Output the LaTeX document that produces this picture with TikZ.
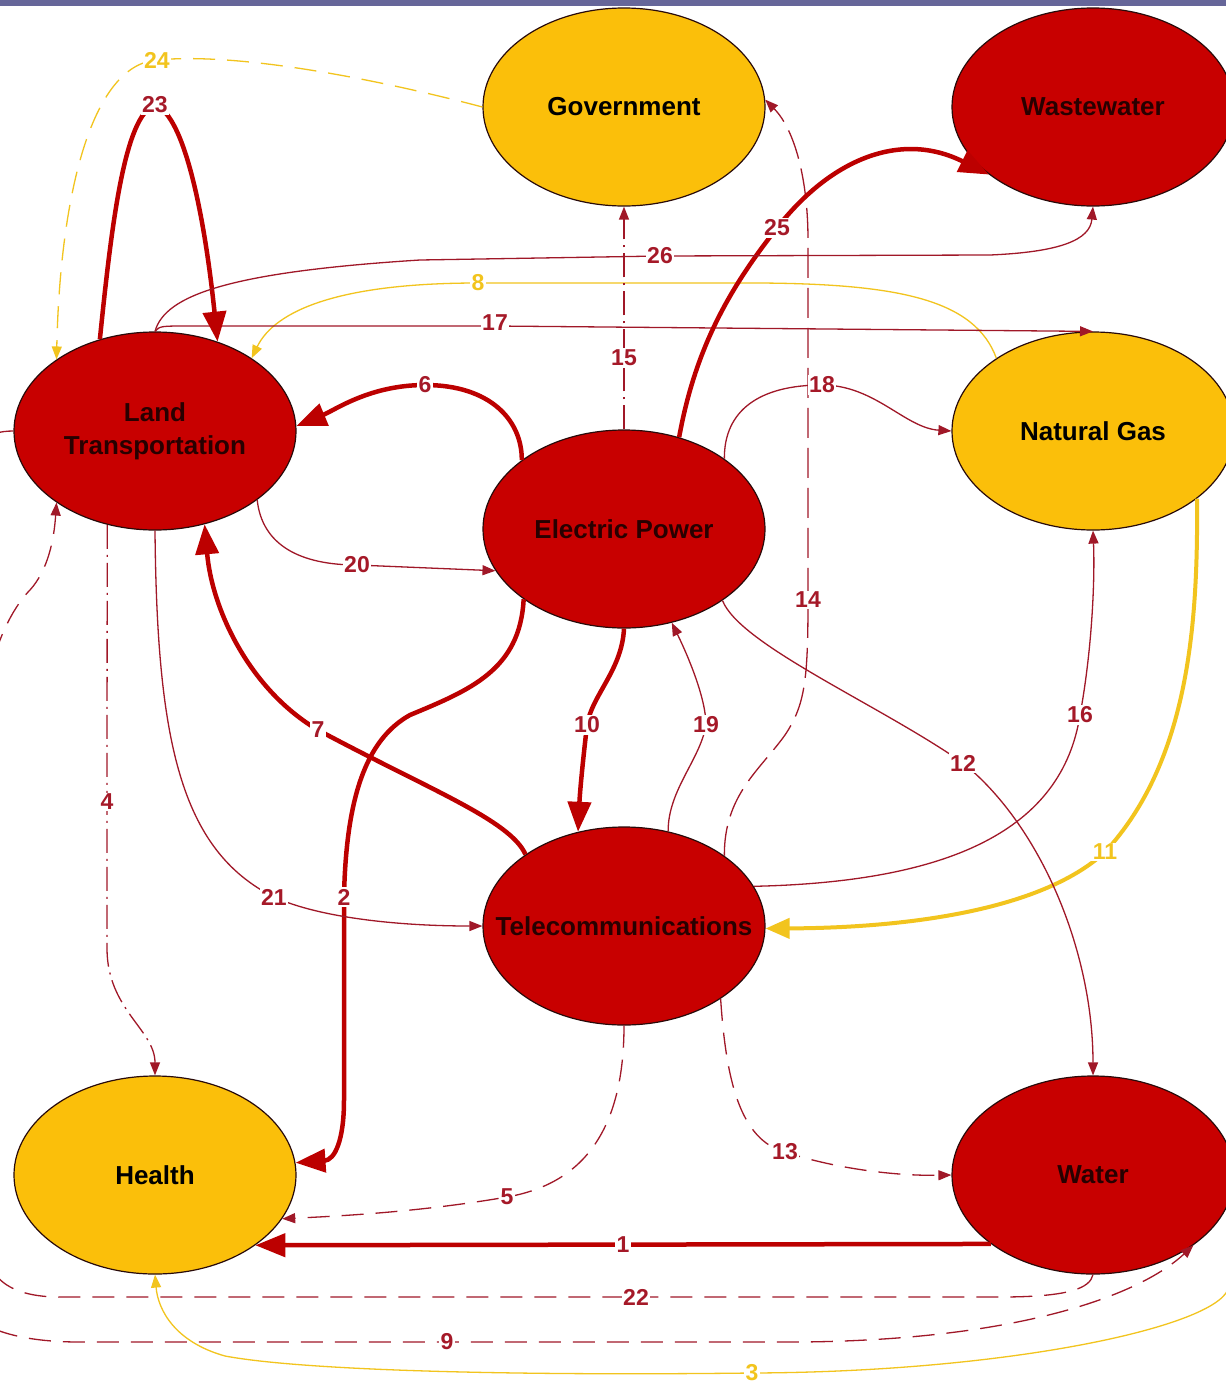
\documentclass[tikz,border=0pt]{standalone}
\usepackage{fontspec}
\setmainfont{Liberation Sans}
\usetikzlibrary{arrows.meta,shapes.geometric}
\definecolor{nodered}{RGB}{200,0,0}
\definecolor{nodeyel}{RGB}{251,191,10}
\definecolor{edgered}{RGB}{160,24,40}
\definecolor{thickred}{RGB}{188,0,0}
\definecolor{lblred}{RGB}{165,25,40}
\definecolor{edgeyel}{RGB}{242,196,30}
\definecolor{barcol}{RGB}{102,102,153}
\definecolor{redtext}{RGB}{40,0,0}
\newcommand{\nolen}[1]{\makebox[0pt][c]{#1}}
\begin{document}
\begin{tikzpicture}[x=1pt,y=-1pt,
  sys/.style={ellipse, draw={rgb,255:red,40;green,10;blue,10}, line width=1.2pt,
    minimum width=282pt, minimum height=198pt, inner sep=0pt,
    font=\fontsize{26}{33}\selectfont\bfseries, align=center},
  redsys/.style={sys, fill=nodered, text=redtext},
  yelsys/.style={sys, fill=nodeyel, text=black},
  lnk/.style={draw=edgered, line width=1.3pt, -{Triangle[length=13pt,width=10pt]}},
  lnkb/.style={draw=thickred, line width=4.5pt, -{Triangle[length=30pt,width=23pt]}},
  yel/.style={draw=edgeyel, line width=1.3pt, -{Triangle[length=13pt,width=10pt]}},
  yelb/.style={draw=edgeyel, line width=4pt, -{Triangle[length=24pt,width=20pt]}},
  dsh/.style={dash pattern=on 22pt off 12pt},
  dlong/.style={dash pattern=on 30pt off 10pt},
  ddot/.style={dash pattern=on 24pt off 6pt on 2pt off 6pt},
  lbl/.style={fill=white, inner sep=1.5pt, font=\fontsize{23}{23}\selectfont\bfseries, text=lblred},
  ylbl/.style={lbl, text=edgeyel}
]
\useasboundingbox (0,0) rectangle (1226,1387);
\clip (0,0) rectangle (1226,1387);
\fill[white] (0,0) rectangle (1226,1387);
\fill[barcol] (0,0) rectangle (1226,6);

% systems
\node[yelsys] (GOV) at (624,107) {\nolen{Government}};
\node[redsys] (WW) at (1093,107) {\nolen{Wastewater}};
\node[redsys] (LT) at (155,431) {Land\\Transportation};
\node[redsys] (EP) at (624,529) {\nolen{Electric Power}};
\node[yelsys] (NG) at (1093,431) {\nolen{Natural Gas}};
\node[redsys] (TC) at (624,926) {\nolen{Telecommunications}};
\node[yelsys] (HE) at (155,1175) {\nolen{Health}};
\node[redsys] (WA) at (1093,1175) {\nolen{Water}};

% 1
\draw[lnkb] (WA.214) -- node[lbl]{1} (HE.-35);
% 2
\draw[lnkb] (EP.215) .. controls (520,670) and (470,690) .. (410,715) .. controls (365,740) and (346,800) .. (344,897) node[lbl]{2} -- (344,1100) .. controls (344,1140) and (335,1160) .. (HE.5);
% 3
\draw[yel] (NG.east) .. controls (1262,650) and (1252,1256) .. (1226,1293) .. controls (1200,1330) and (1000,1372) .. (752,1373) node[ylbl]{3} .. controls (500,1376) and (300,1370) .. (225,1356) .. controls (175,1342) and (158,1310) .. (HE.south);
% 4
\draw[lnk, ddot] (LT.243) -- (107,802) node[lbl]{4} -- (107,950) .. controls (108,1010) and (155,1030) .. (HE.north);
% 5
\draw[lnk, dsh] (TC.south) .. controls (624,1140) and (575,1185) .. (507,1197) node[lbl]{5} .. controls (420,1212) and (340,1216) .. (HE.-19);
% 6
\draw[lnkb] (EP.146) .. controls (522,420) and (490,385) .. (425,385) node[lbl]{6} .. controls (370,385) and (335,410) .. (LT.2);
% 7
\draw[lnkb] (TC.144) .. controls (510,820) and (430,790) .. (318,730) node[lbl]{7} .. controls (250,690) and (212,610) .. (LT.-62);
% 8
\draw[yel] (NG.143) .. controls (975,300) and (900,284) .. (760,283) -- (478,283) node[ylbl]{8} .. controls (340,283) and (275,310) .. (LT.37);
% 9
\draw[lnk, dsh] (LT.west) .. controls (-40,431) and (-50,480) .. (-50,600) -- (-50,1270) .. controls (-50,1320) and (0,1342) .. (80,1342) -- (447,1342) node[lbl]{9} -- (800,1342) .. controls (1020,1340) and (1140,1295) .. (WA.-35);
% 10
\draw[lnkb] (EP.south) .. controls (622,670) and (592,695) .. (587,725) node[lbl]{10} .. controls (583,760) and (580,790) .. (TC.116);
% 11
\draw[yelb] (NG.-33) .. controls (1198,620) and (1190,760) .. (1105,852) node[ylbl]{11} .. controls (1040,912) and (900,928) .. (TC.-1);
% 12
\draw[lnk] (EP.-36) .. controls (740,645) and (880,705) .. (963,763) node[lbl]{12} .. controls (1040,825) and (1093,950) .. (WA.north);
% 13
\draw[lnk, dsh] (TC.-37) .. controls (726,1080) and (740,1140) .. (785,1152) node[lbl]{13} .. controls (840,1170) and (900,1176) .. (WA.west);
% 14
\draw[lnk, dlong] (TC.35) .. controls (724,795) and (760,770) .. (785,735) .. controls (805,705) and (808,680) .. (808,600) node[lbl]{14} -- (808,240) .. controls (808,180) and (795,130) .. (GOV.3);
% 15
\draw[lnk, ddot] (EP.north) -- (624,358) node[lbl]{15} -- (GOV.south);
% 16
\draw[lnk] (TC.17) .. controls (950,882) and (1062,830) .. (1080,715) node[lbl]{16} .. controls (1092,650) and (1095,580) .. (NG.south);
% 17
\draw[lnk] (LT.north) .. controls (160,326) .. (190,326) -- (495,326) node[lbl, yshift=3pt]{17} -- (NG.north);
% 18
\draw[lnk] (EP.35) .. controls (724,410) and (760,385) .. (822,385) node[lbl]{18} .. controls (875,385) and (905,428) .. (NG.west);
% 19
\draw[lnk] (TC.65) .. controls (668,790) and (700,760) .. (706,725) node[lbl]{19} .. controls (706,700) and (690,660) .. (EP.-63);
% 20
\draw[lnk] (LT.-34) .. controls (262,545) and (300,565) .. (357,565) node[lbl]{20} -- (EP.198);
% 21
\draw[lnk] (LT.south) .. controls (157,740) and (180,850) .. (274,897) node[lbl]{21} .. controls (320,918) and (400,926) .. (TC.west);
% 22
\draw[lnk, dsh] (WA.south) .. controls (1090,1288) and (1070,1297) .. (1000,1297) -- (636,1297) node[lbl]{22} -- (60,1297) .. controls (20,1297) and (-15,1285) .. (-15,1240) -- (-15,720) .. controls (-15,660) and (10,610) .. (30,590) .. controls (48,570) and (54,540) .. (LT.216);
% 23
\draw[lnkb] (LT.121) .. controls (112,220) and (125,115) .. (155,105) node[lbl]{23} .. controls (185,115) and (205,220) .. (LT.55);
% 24
\draw[yel, dsh] (GOV.west) .. controls (380,80) and (240,52) .. (157,60) node[ylbl]{24} .. controls (90,65) and (60,200) .. (LT.144);
% 25
\draw[lnkb] (EP.59) .. controls (695,350) and (728,290) .. (777,228) node[lbl]{25} .. controls (830,160) and (900,130) .. (WW.213);
% 26
\draw[lnk] (LT.north) .. controls (165,295) and (230,272) .. (420,260) -- (660,256) node[lbl]{26} -- (990,255) .. controls (1060,252) and (1090,240) .. (WW.south);
\end{tikzpicture}
\end{document}
